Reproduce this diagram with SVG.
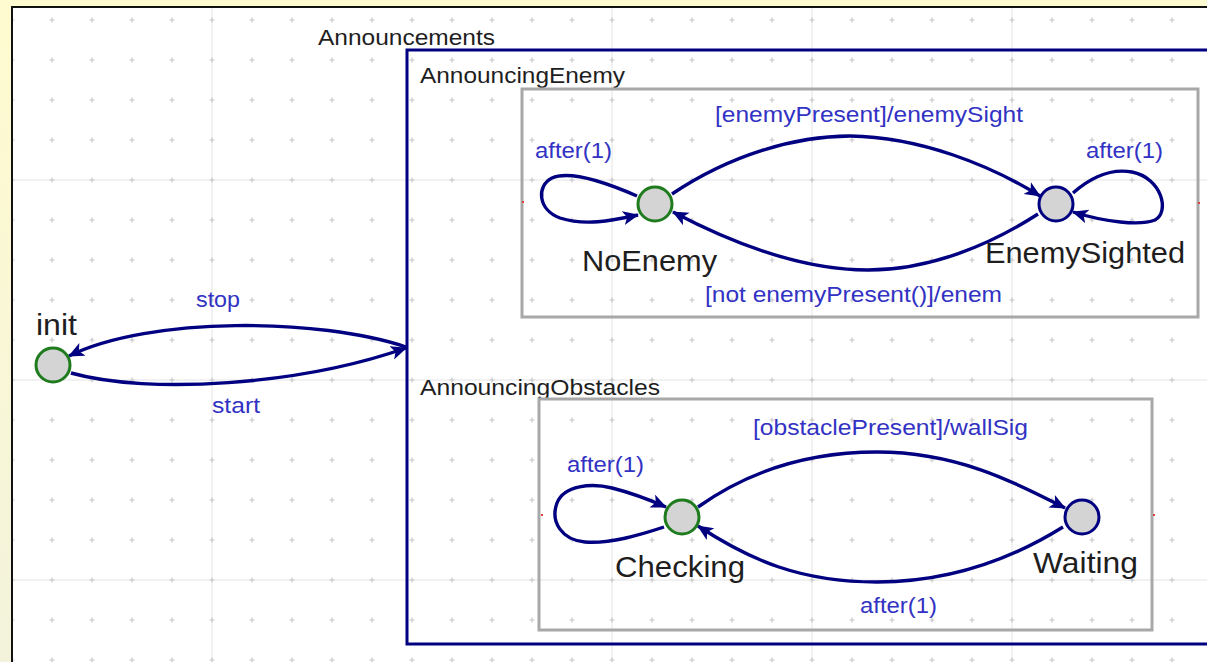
<svg xmlns="http://www.w3.org/2000/svg" width="1207" height="662" viewBox="0 0 1207 662">
  <defs>
    <linearGradient id="frameBg" x1="0" y1="0" x2="0" y2="1">
      <stop offset="0" stop-color="#fffbd0"/>
      <stop offset="1" stop-color="#f3f3dc"/>
    </linearGradient>
    <!-- plus-shaped grid dots every 40px -->
    <pattern id="gridDots" patternUnits="userSpaceOnUse" x="-8" y="0" width="40" height="40">
      <path d="M17.5 20h5M20 17.5v5" stroke="#c8c8c8" stroke-width="1.2"/>
    </pattern>
    <marker id="arrow" markerUnits="userSpaceOnUse" markerWidth="18" markerHeight="16" refX="15" refY="7" orient="auto">
      <path d="M0 0 L16 7 L0 14 L4 7 Z" fill="#000080"/>
    </marker>
    <style>
      .lbl { font-family: "Liberation Sans", Arial, sans-serif; fill: #1e1e1e; }
      .box { font-size: 22px; }
      .state { font-size: 30px; }
      .trans { font-family: "Liberation Sans", Arial, sans-serif; font-size: 22px; fill: #3232c4; }
      .edge { fill: none; stroke: #000080; stroke-width: 3.4; }
      .edge-arrow { marker-end: url(#arrow); }
      .region { fill: none; stroke: #a8a8a8; stroke-width: 3; }
      .node-start { fill: #d4d4d4; stroke: #1e7b1e; stroke-width: 3; }
      .node-plain { fill: #d4d4d4; stroke: #000080; stroke-width: 3; }
      .gridline { stroke: #e4e4e4; stroke-width: 1; }
    </style>
  </defs>

  <!-- canvas -->
  <rect x="0" y="0" width="1207" height="662" fill="url(#frameBg)"/>
  <rect x="12" y="7" width="1210" height="670" fill="#ffffff" stroke="#111111" stroke-width="2"/>
  <g id="grid">
    <path class="gridline" d="M212 8V662M612 8V662M812 8V662M1012 8V662M13 180H1207M13 380H1207M13 580H1207"/>
    <rect x="13" y="8" width="1194" height="654" fill="url(#gridDots)"/>
  </g>

  <!-- composite state and regions -->
  <g id="Announcements">
    <rect x="407" y="50" width="820" height="594" fill="none" stroke="#000080" stroke-width="3"/>
    <text class="lbl box" x="318" y="45" textLength="177" lengthAdjust="spacingAndGlyphs">Announcements</text>
  </g>
  <g id="AnnouncingEnemy">
    <text class="lbl box" x="420" y="83" textLength="205" lengthAdjust="spacingAndGlyphs">AnnouncingEnemy</text>
    <rect class="region" x="522" y="89" width="676" height="228"/>
    <rect x="522" y="201" width="2" height="2" fill="#e04040"/>
    <rect x="1198" y="202" width="2" height="2" fill="#e04040"/>
  </g>
  <g id="AnnouncingObstacles">
    <text class="lbl box" x="420" y="395" textLength="240" lengthAdjust="spacingAndGlyphs">AnnouncingObstacles</text>
    <rect class="region" x="539" y="399" width="613" height="231"/>
    <rect x="541" y="514" width="2" height="2" fill="#e04040"/>
    <rect x="1153" y="514" width="2" height="2" fill="#e04040"/>
  </g>

  <!-- transitions -->
  <g id="connectors">
    <path class="edge edge-arrow" d="M406 347 C320 318 150 316 69 356"/>
    <path class="edge edge-arrow" d="M71 373 C150 395 300 385 406 348"/>

    <path class="edge edge-arrow" d="M637 196 C605 182 570 170 552 178 C536 186 538 210 560 218 C585 226 610 221 638 215"/>
    <path class="edge edge-arrow" d="M672 194 C730 155 795 136 850 136 C920 137 990 165 1040 196"/>
    <path class="edge edge-arrow" d="M1038 214 C990 245 930 270 868 270 C800 270 730 242 673 212"/>
    <path class="edge edge-arrow" d="M1073 193 C1090 178 1110 168 1132 172 C1162 178 1170 212 1155 220 C1140 226 1105 222 1073 212"/>

    <path class="edge edge-arrow" d="M664 527 C640 535 610 544 585 542 C562 540 550 522 557 503 C564 485 592 483 612 488 C632 493 650 500 666 507"/>
    <path class="edge edge-arrow" d="M698 507 C750 470 810 452 877 452 C960 452 1020 485 1065 508"/>
    <path class="edge edge-arrow" d="M1063 527 C1010 560 950 582 877 582 C800 582 750 560 698 526"/>
  </g>

  <!-- transition labels -->
  <g id="transition-labels">
    <text class="trans" x="196" y="307" textLength="44" lengthAdjust="spacingAndGlyphs">stop</text>
    <text class="trans" x="212" y="413" textLength="48" lengthAdjust="spacingAndGlyphs">start</text>
    <text class="trans" x="535" y="158" textLength="77" lengthAdjust="spacingAndGlyphs">after(1)</text>
    <text class="trans" x="715" y="122" textLength="308" lengthAdjust="spacingAndGlyphs">[enemyPresent]/enemySight</text>
    <text class="trans" x="1086" y="158" textLength="77" lengthAdjust="spacingAndGlyphs">after(1)</text>
    <text class="trans" x="705" y="302" textLength="297" lengthAdjust="spacingAndGlyphs">[not enemyPresent()]/enem</text>
    <text class="trans" x="567" y="472" textLength="77" lengthAdjust="spacingAndGlyphs">after(1)</text>
    <text class="trans" x="753" y="435" textLength="275" lengthAdjust="spacingAndGlyphs">[obstaclePresent]/wallSig</text>
    <text class="trans" x="860" y="613" textLength="77" lengthAdjust="spacingAndGlyphs">after(1)</text>
  </g>

  <!-- states -->
  <g id="init">
    <circle class="node-start" cx="53" cy="365" r="17"/>
    <text class="lbl state" x="36" y="335" textLength="41" lengthAdjust="spacingAndGlyphs">init</text>
  </g>
  <g id="NoEnemy">
    <circle class="node-start" cx="655" cy="204" r="17"/>
    <text class="lbl state" x="582" y="271" textLength="135" lengthAdjust="spacingAndGlyphs">NoEnemy</text>
  </g>
  <g id="EnemySighted">
    <circle class="node-plain" cx="1056" cy="204" r="17"/>
    <text class="lbl state" x="985" y="263" textLength="200" lengthAdjust="spacingAndGlyphs">EnemySighted</text>
  </g>
  <g id="Checking">
    <circle class="node-start" cx="682" cy="517" r="17"/>
    <text class="lbl state" x="615" y="577" textLength="130" lengthAdjust="spacingAndGlyphs">Checking</text>
  </g>
  <g id="Waiting">
    <circle class="node-plain" cx="1082" cy="517" r="17"/>
    <text class="lbl state" x="1033" y="573" textLength="105" lengthAdjust="spacingAndGlyphs">Waiting</text>
  </g>
</svg>
